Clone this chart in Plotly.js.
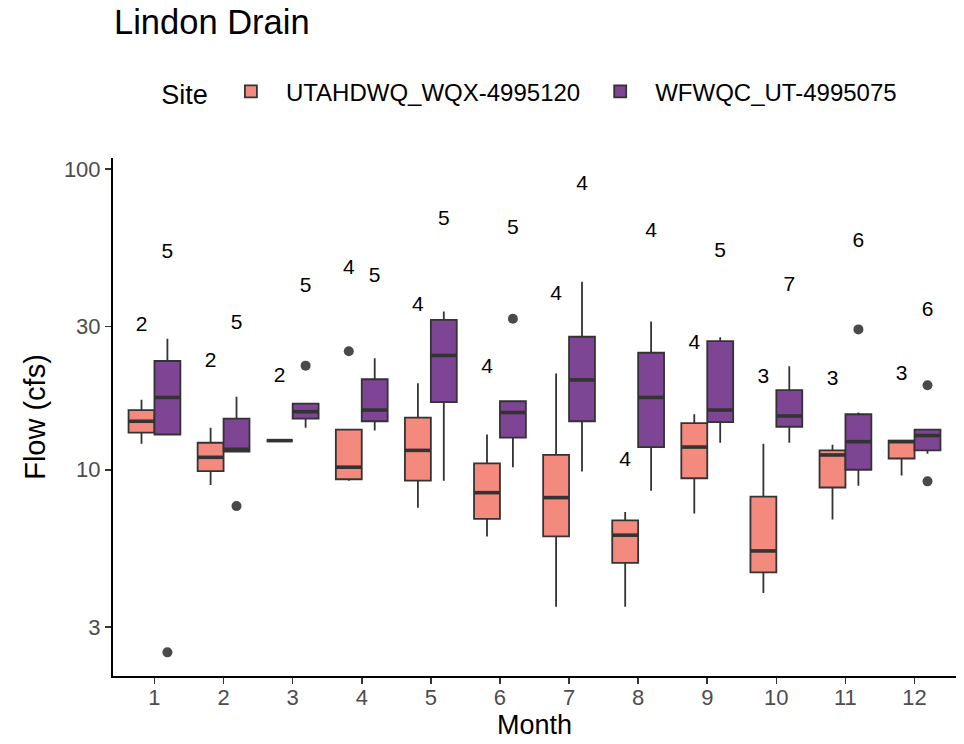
<!DOCTYPE html>
<html>
<head>
<meta charset="utf-8">
<script src="https://cdn.plot.ly/plotly-3.0.1.min.js"></script>
<style>html,body{margin:0;padding:0;background:#fff;}#chart{width:964px;height:744px;}</style>
</head>
<body>
<div id="chart"></div>
<script>
// ---- data ----
const months = [1, 2, 3, 4, 5, 6, 7, 8, 9, 10, 11, 12];
const siteA = "UTAHDWQ_WQX-4995120";
const siteB = "WFWQC_UT-4995075";

// UTAHDWQ_WQX-4995120
const aLower  = [12.2, 8.9, 12.5, 9.2, 7.48, 6.0, 3.5, 3.5, 7.16, 3.89, 6.83, 9.57];
const aQ1     = [13.3, 9.9, 12.5, 9.3, 9.2, 6.86, 6.0, 4.9, 9.37, 4.56, 8.73, 10.9];
const aMedian = [14.5, 11.0, 12.5, 10.2, 11.6, 8.39, 8.08, 6.06, 11.9, 5.37, 11.2, 12.4];
const aQ3     = [15.8, 12.3, 12.5, 13.6, 14.9, 10.5, 11.2, 6.79, 14.3, 8.14, 11.6, 12.5];
const aUpper  = [17.1, 13.8, 12.5, 13.6, 19.4, 13.1, 20.9, 7.23, 15.3, 12.2, 12.1, 12.5];
const aCount  = [2, 2, 2, 4, 4, 4, 4, 4, 4, 3, 3, 3];
const aLabelY = [30.1, 22.8, 20.4, 46.5, 35.0, 21.8, 38.3, 10.7, 26.2, 20.2, 19.9, 20.7];
const aOutMonth = [4];
const aOutValue = [24.8];

// WFWQC_UT-4995075
const bLower  = [13.1, 11.5, 13.8, 13.5, 9.2, 10.2, 9.87, 8.51, 12.3, 12.3, 8.85, 11.3];
const bQ1     = [13.1, 11.5, 14.8, 14.5, 16.8, 12.8, 14.5, 11.9, 14.4, 13.9, 10.0, 11.6];
const bMedian = [17.4, 11.7, 15.6, 15.8, 24.0, 15.5, 19.9, 17.4, 15.8, 15.1, 12.4, 13.0];
const bQ3     = [23.0, 14.8, 16.6, 20.0, 31.5, 16.9, 27.7, 24.5, 26.8, 18.4, 15.3, 13.6];
const bUpper  = [27.3, 17.5, 16.6, 23.5, 33.6, 16.9, 42.2, 31.1, 27.6, 22.1, 15.5, 13.6];
const bCount  = [5, 5, 5, 5, 5, 5, 4, 4, 5, 7, 6, 6];
const bLabelY = [52.6, 30.6, 40.6, 43.9, 67.8, 63.2, 89.0, 61.9, 53.2, 40.9, 57.2, 33.9];
const bOutMonth = [1, 2, 3, 6, 11, 12, 12];
const bOutValue = [2.47, 7.57, 22.2, 31.8, 29.3, 19.1, 9.15];

// ---- styling ----
const fillA = "#F48A7D";
const fillB = "#7E4594";
const edge = "#333333";
const dodge = 0.1875;   // half of dodge width 0.75 / 2
const boxW = 0.375;
const FONT = "Liberation Sans, Arial, sans-serif";

const xA = months.map(m => m - dodge);
const xB = months.map(m => m + dodge);

function boxTrace(name, x, lo, q1, med, q3, hi, fill) {
  return {
    type: "box", name: name, x: x,
    lowerfence: lo, q1: q1, median: med, q3: q3, upperfence: hi,
    width: boxW, boxpoints: false, whiskerwidth: 0,
    fillcolor: fill, line: {color: edge, width: 1.8},
    hoverinfo: "skip", showlegend: true
  };
}
function medianTrace(x, med) {
  const xs = [], ys = [];
  x.forEach((c, i) => { xs.push(c - boxW / 2, c + boxW / 2, null); ys.push(med[i], med[i], null); });
  return {type: "scatter", mode: "lines", x: xs, y: ys, line: {color: edge, width: 3.6},
          showlegend: false, hoverinfo: "skip"};
}
function outlierTrace(om, ov, off) {
  return {type: "scatter", mode: "markers", x: om.map(m => m + off), y: ov,
          marker: {color: "#4a4a4a", size: 10}, showlegend: false, hoverinfo: "skip"};
}
function countTrace(x, ly, n) {
  return {type: "scatter", mode: "text", x: x, y: ly, text: n.map(String),
          textposition: "middle center", textfont: {family: FONT, size: 21, color: "#000"},
          showlegend: false, hoverinfo: "skip"};
}

const data = [
  boxTrace(siteA, xA, aLower, aQ1, aMedian, aQ3, aUpper, fillA),
  boxTrace(siteB, xB, bLower, bQ1, bMedian, bQ3, bUpper, fillB),
  medianTrace(xA, aMedian),
  medianTrace(xB, bMedian),
  outlierTrace(aOutMonth, aOutValue, -dodge),
  outlierTrace(bOutMonth, bOutValue, dodge),
  countTrace(xA, aLabelY, aCount),
  countTrace(xB, bLabelY, bCount)
];

const layout = {
  width: 964, height: 744,
  paper_bgcolor: "#fff", plot_bgcolor: "#fff",
  font: {family: FONT, color: "#000"},
  margin: {l: 113, r: 8, t: 158, b: 68, pad: 0},
  title: {text: "Lindon Drain", font: {family: FONT, size: 34.5, color: "#000"},
          xref: "container", x: 114 / 964, xanchor: "left",
          yref: "container", y: 1 - 22 / 744, yanchor: "middle"},
  showlegend: true,
  legend: {orientation: "h", x: 0.055, xanchor: "left", y: 1.127, yanchor: "middle",
           itemwidth: 60,
           font: {family: FONT, size: 24, color: "#000"},
           title: {text: "Site", side: "left", font: {family: FONT, size: 27, color: "#000"}},
           bgcolor: "rgba(0,0,0,0)", traceorder: "normal"},
  annotations: [{
    text: "Month", xref: "paper", yref: "paper", x: 0.5, y: -0.095,
    xanchor: "center", yanchor: "middle", showarrow: false, borderpad: 0,
    font: {family: FONT, size: 27, color: "#000"}
  }],
  xaxis: {
    range: [0.4, 12.6], tickvals: months, ticktext: months.map(String),
    showgrid: false, zeroline: false, showline: true, linecolor: "#000", linewidth: 2,
    ticks: "outside", ticklen: 6, tickwidth: 1.6, tickcolor: "#333",
    ticklabelstandoff: -5,
    tickfont: {family: FONT, size: 22, color: "#4D4D4D"},
    automargin: false, fixedrange: true
  },
  yaxis: {
    type: "log", range: [0.314, 2.037],
    tickvals: [3, 10, 30, 100], ticktext: ["3", "10", "30", "100"],
    showgrid: false, zeroline: false, showline: true, linecolor: "#000", linewidth: 2,
    ticks: "outside", ticklen: 6, tickwidth: 1.6, tickcolor: "#333",
    tickfont: {family: FONT, size: 22, color: "#4D4D4D"},
    title: {text: "Flow (cfs)", font: {family: FONT, size: 29, color: "#000"}, standoff: 10},
    automargin: false, fixedrange: true
  }
};

Plotly.newPlot("chart", data, layout, {displayModeBar: false, staticPlot: true});
</script>
</body>
</html>
